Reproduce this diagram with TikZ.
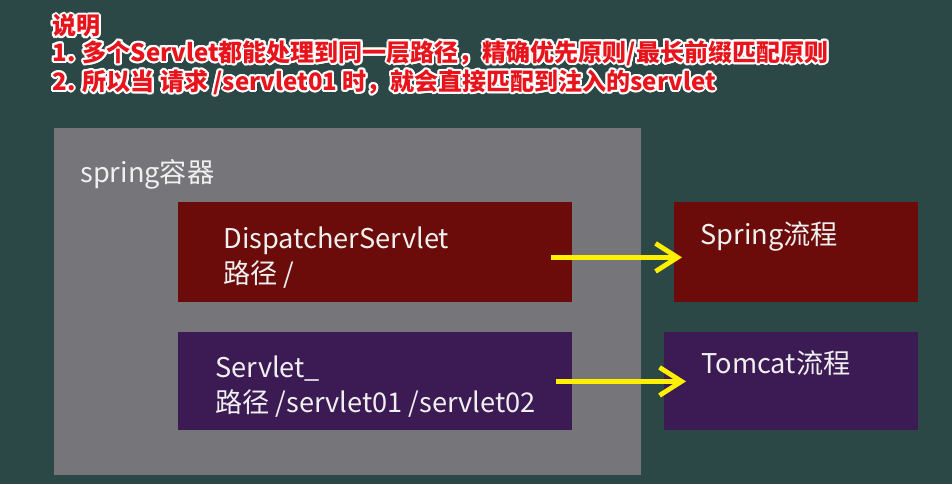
\documentclass[tikz,border=0pt]{standalone}
\usepackage{fontspec}
\setmainfont{Noto Sans CJK SC}
\usepackage{contour}
\contourlength{1pt}
\usetikzlibrary{arrows.meta}
\definecolor{boardteal}{RGB}{44,72,70}
\definecolor{iocgrey}{RGB}{118,118,122}
\definecolor{springred}{RGB}{108,12,10}
\definecolor{servletpurple}{RGB}{60,26,84}
\definecolor{titlered}{RGB}{232,20,28}
\definecolor{arrowyellow}{RGB}{255,240,0}
\tikzset{container/.style={fill=iocgrey,anchor=north west,inner sep=0pt,
                           minimum width=293.5pt,minimum height=173.5pt},
        springbox/.style={fill=springred,anchor=north west,inner sep=0pt,minimum height=50pt},
        servletbox/.style={fill=servletpurple,anchor=north west,inner sep=0pt,minimum height=49pt},
        boxlabel/.style={anchor=north west,inner sep=0pt,align=left,text=white!94!black,
                         font=\fontsize{13.6}{17.5}\selectfont},
        titletext/.style={anchor=north west,inner sep=0pt,align=left,text=titlered,
                          font=\bfseries\fontsize{12}{13.25}\selectfont},
        flowarrow/.style={draw=arrowyellow,line width=2.4pt,
                          -{Straight Barb[length=11pt,width=14pt]}},
        }

\begin{document}
\begin{tikzpicture}[x=0.5pt,y=-0.5pt]
    \useasboundingbox (0,0) rectangle (952,484);
    \fill[boardteal] (0,0) rectangle (952,484);

    \node[titletext] (note) at (52,14) {\contour{white}{说明}\\
        \contour{white}{1. 多个Servlet都能处理到同一层路径，精确优先原则/最长前缀匹配原则}\\
        \contour{white}{2. 所以当 请求 /servlet01 时，就会直接匹配到注入的servlet}};

    \node[container,label={[boxlabel,xshift=13pt,yshift=-15.5pt]north west:spring容器}] (ioc) at (54,128) {};

    \node[springbox,minimum width=197pt,
          label={[boxlabel,xshift=22.5pt,yshift=-12pt]north west:{DispatcherServlet\\路径 /}}] (dispatcher) at (178,202) {};
    \node[servletbox,minimum width=197pt,
          label={[boxlabel,xshift=18.5pt,yshift=-11.8pt]north west:{Servlet\_\\路径 /servlet01 /servlet02}}] (servlet) at (178,332) {};

    \node[springbox,minimum width=122pt,
          label={[boxlabel,xshift=13pt,yshift=-9.5pt]north west:Spring流程}] (springflow) at (674,202) {};
    \node[servletbox,minimum width=127pt,
          label={[boxlabel,xshift=18.5pt,yshift=-9pt]north west:Tomcat流程}] (tomcatflow) at (664,332) {};

    \draw[flowarrow] ([xshift=-11pt,yshift=-2.5pt]dispatcher.east) -- ([xshift=4pt,yshift=-2.5pt]springflow.west);
    \draw[flowarrow] ([xshift=-8.5pt]servlet.east) -- ([xshift=11pt]tomcatflow.west);

\end{tikzpicture}
\end{document}
